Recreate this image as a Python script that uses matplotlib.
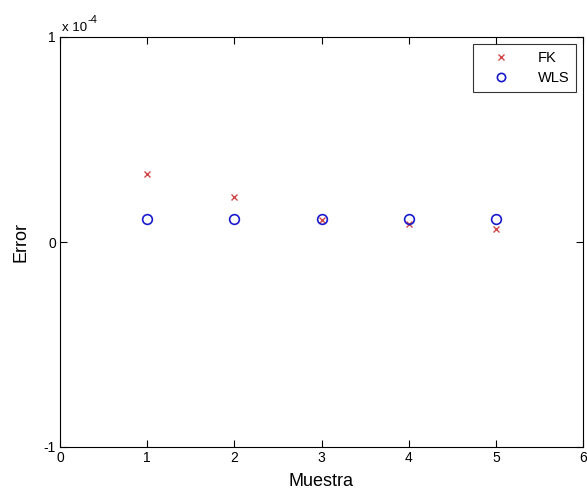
import matplotlib
matplotlib.use('Agg')
import matplotlib.pyplot as plt

plt.rcParams['font.family'] = ['Liberation Sans', 'DejaVu Sans']
plt.rcParams['axes.unicode_minus'] = False

muestra = [1, 2, 3, 4, 5]
# errors in units of 1e-4
fk = [0.33, 0.221, 0.108, 0.088, 0.062]
wls = [0.111, 0.111, 0.111, 0.111, 0.111]
x_ticks = [0, 1, 2, 3, 4, 5, 6]
y_ticks = [-1, 0, 1]

fig = plt.figure(figsize=(5.87, 5.0), dpi=100)
ax = fig.add_axes([60 / 587, 53 / 500, 523 / 587, 410 / 500])

ax.plot(muestra, fk, 'x', color='#d04848', markersize=5, markeredgewidth=1.0, label='FK')
ax.plot(muestra, wls, 'o', color='#1a1acc', markerfacecolor='none', markersize=7,
        markeredgewidth=1.2, label='WLS')

ax.set_xlim(0, 6)
ax.set_ylim(-1, 1)
ax.set_xticks(x_ticks)
ax.set_xticklabels([str(t) for t in x_ticks])
ax.set_yticks(y_ticks)
ax.set_yticklabels([str(t) for t in y_ticks])
ax.tick_params(direction='in', top=True, right=True, labelsize=10, length=5, pad=3)
for s in ax.spines.values():
    s.set_linewidth(0.8)

ax.set_xlabel('Muestra', fontsize=13, labelpad=6)
ax.set_ylabel('Error', fontsize=13, labelpad=10)
# MATLAB-style exponent label
ax.text(0.003, 1.008, 'x 10', transform=ax.transAxes, fontsize=9.5, va='bottom', ha='left')
ax.text(0.053, 1.03, '-4', transform=ax.transAxes, fontsize=8, va='bottom', ha='left')

leg = ax.legend(loc='upper right', fontsize=10.5, frameon=True, fancybox=False,
                edgecolor='black', borderaxespad=0.5, handletextpad=1.0, borderpad=0.45,
                labelspacing=0.45, handlelength=3.0, markerscale=0.85)
leg.get_frame().set_linewidth(0.8)

fig.savefig('out.png', dpi=100)
